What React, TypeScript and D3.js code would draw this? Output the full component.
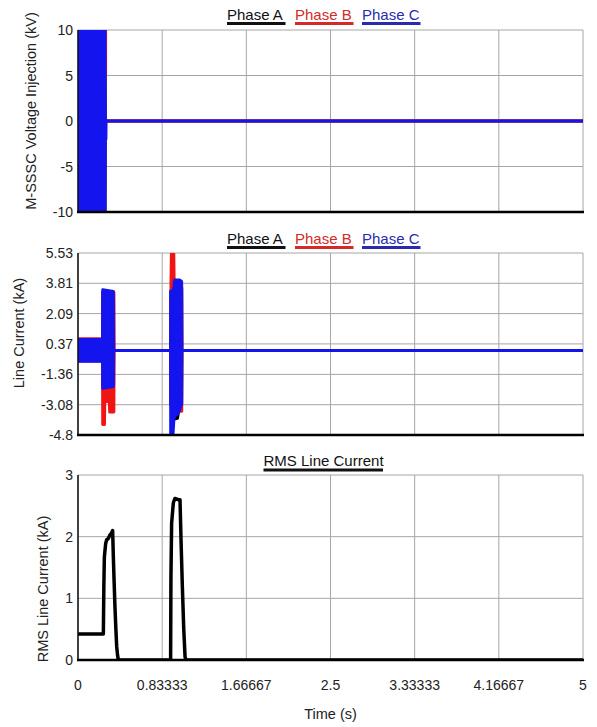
import React from "react";
import * as d3 from "d3";

// ---- X axis (time, s)
const timeTicks = [0, 5 / 6, 10 / 6, 2.5, 20 / 6, 25 / 6, 5];
const timeTickLabels = ["0", "0.83333", "1.66667", "2.5", "3.33333", "4.16667", "5"];

// ---- Panel 1: M-SSSC voltage injection (kV), envelopes of the waveforms (NaN = gap)
const voltTicks = [10, 5, 0, -5, -10];
const voltATime = [0, 0.268, 0.27, 5];
const voltAMax = [10, 10, 0, 0];
const voltAMin = [-10, -10, 0, 0];
const voltBTime = [0, 0.262, 0.264, 0.273, NaN, 0.28, 5];
const voltBMax = [10, 10, 10, 10, NaN, 0, 0];
const voltBMin = [-10, -10, 5, 5, NaN, 0, 0];
const voltCTime = [0, 0.267, 0.27, 0.276, 0.278, 5];
const voltCMax = [10, 10, 0, 0, 0, 0];
const voltCMin = [-10, -10, -2, -2, 0, 0];

// ---- Panel 2: line current (kA), envelopes
const curTicks = [5.53, 3.81, 2.09, 0.37, -1.36, -3.08, -4.8];
const curTickLabels = ["5.53", "3.81", "2.09", "0.37", "-1.36", "-3.08", "-4.8"];
const curATime = [0, 0.243, 0.245, 0.352, 0.354, 0.918, 0.92, 0.955, 0.985, 1.0, 1.026, 1.028, 5];
const curAMax = [0.55, 0.55, 3.3, 3.3, 0, 0, 3.3, 3.8, 3.8, 3.8, 3.5, 0, 0];
const curAMin = [-0.55, -0.55, -2.0, -2.0, 0, 0, -3.0, -3.9, -3.85, -3.3, -3.0, 0, 0];
const curBTime = [0, 0.243, 0.245, 0.262, 0.265, 0.31, 0.314, 0.355, 0.357, 0.919, 0.921, 0.925, 0.948, 0.952, 1.0, 1.027, 1.029, 5];
const curBMax = [0.67, 0.67, 3.3, 3.3, 3.3, 3.3, 3.3, 3.3, 0, 0, 4.0, 5.53, 5.53, 3.8, 3.8, 3.6, 0, 0];
const curBMin = [-0.6, -0.6, -4.2, -4.2, -2.9, -2.9, -3.5, -3.5, 0, 0, -3.0, -3.3, -3.3, -3.3, -3.4, -3.45, 0, 0];
const curCTime = [0, 0.243, 0.245, 0.35, 0.352, 0.917, 0.918, 0.94, 0.95, 0.958, 1.0, 1.02, 1.026, 1.028, 5];
const curCMax = [0.62, 0.62, 3.45, 3.35, 0, 0, 3.37, 3.37, 3.6, 4.0, 4.0, 3.95, 3.9, 0, 0];
const curCMin = [-0.62, -0.62, -2.15, -2.05, 0, 0, -4.8, -4.8, -3.85, -3.75, -3.5, -3.1, -3.1, 0, 0];

// ---- Panel 3: RMS line current (kA)
const rmsTicks = [3, 2, 1, 0];
const rmsTime = [0, 0.251, 0.256, 0.261, 0.274, 0.284, 0.3, 0.317, 0.333, 0.343, 0.35, 0.358, 0.366, 0.375, 0.383, 0.392, 0.4, 0.917, 0.92, 0.927, 0.944, 0.96, 0.993, 1.01, 1.02, 1.033, 1.047, 1.06, 1.068, 5];
const rmsValue = [0.42, 0.42, 1.2, 1.67, 1.89, 1.95, 1.97, 2.03, 2.06, 2.1, 1.67, 1.25, 0.86, 0.5, 0.22, 0.07, 0, 0, 1.3, 2.22, 2.55, 2.62, 2.6, 2.6, 1.95, 1.2, 0.5, 0.05, 0, 0];

const phaseNames = ["Phase A", "Phase B", "Phase C"];

const FONT = "'Liberation Sans', Arial, Helvetica, sans-serif";
const BLACK = "#000000";
const RED = "#f01414";
const BLUE = "#1414ee";
const LEG_COLORS = ["#111111", "#d42a2a", "#2a2ab0"];
const GRID = "#a6a6a6";

const X0 = 78;
const X1 = 583;

type Env = { t: number[]; hi: number[]; lo: number[]; color: string };

function App() {
  const x = d3.scaleLinear().domain([0, 5]).range([X0, X1]);
  const yV = d3.scaleLinear().domain([-10, 10]).range([212, 30]);
  const yI = d3.scaleLinear().domain([-4.8, 5.53]).range([435, 253]);
  const yR = d3.scaleLinear().domain([0, 3]).range([660, 475]);

  const envPath = (e: Env, y: d3.ScaleLinear<number, number>) => {
    const idx = e.t.map((_, i) => i);
    return (
      d3
        .area<number>()
        .defined((i) => !isNaN(e.t[i]))
        .x((i) => x(e.t[i]))
        .y0((i) => y(e.lo[i]))
        .y1((i) => y(e.hi[i]))(idx) || ""
    );
  };

  const voltEnv: Env[] = [
    { t: voltATime, hi: voltAMax, lo: voltAMin, color: BLACK },
    { t: voltBTime, hi: voltBMax, lo: voltBMin, color: RED },
    { t: voltCTime, hi: voltCMax, lo: voltCMin, color: BLUE },
  ];
  const curEnv: Env[] = [
    { t: curATime, hi: curAMax, lo: curAMin, color: BLACK },
    { t: curBTime, hi: curBMax, lo: curBMin, color: RED },
    { t: curCTime, hi: curCMax, lo: curCMin, color: BLUE },
  ];

  const rmsIdx = rmsTime.map((_, i) => i);
  const rmsPath =
    d3
      .line<number>()
      .x((i) => x(rmsTime[i]))
      .y((i) => yR(rmsValue[i]))(rmsIdx) || "";

  const frame = (
    id: string,
    y: d3.ScaleLinear<number, number>,
    ticks: number[],
    labels: string[]
  ) => {
    const [yb, yt] = y.range();
    return (
      <g key={id + "frame"}>
        <defs>
          <clipPath id={id}>
            <rect x={X0} y={yt} width={X1 - X0} height={yb - yt} />
          </clipPath>
        </defs>
        {timeTicks.map((t, i) => (
          <line key={"vx" + i} x1={x(t)} x2={x(t)} y1={yt} y2={yb} stroke={GRID} strokeWidth={1} />
        ))}
        {ticks.map((v, i) => (
          <line key={"hy" + i} x1={X0} x2={X1} y1={y(v)} y2={y(v)} stroke={GRID} strokeWidth={1} />
        ))}
        {ticks.map((v, i) => (
          <text
            key={"ty" + i}
            x={73}
            y={y(v)}
            dy="0.36em"
            textAnchor="end"
            fontSize={14}
            fontFamily={FONT}
            fill="#222"
          >
            {labels[i]}
          </text>
        ))}
      </g>
    );
  };

  const axesLines = (y: d3.ScaleLinear<number, number>, key: string) => {
    const [yb, yt] = y.range();
    return (
      <g key={key}>
        <line x1={X0} x2={X0} y1={yt} y2={yb} stroke="#111" strokeWidth={1.5} />
        <line x1={X0 - 1} x2={X1 + 1} y1={yb} y2={yb} stroke="#000" strokeWidth={2.5} />
      </g>
    );
  };

  const legendX = [227, 295, 362];
  const legend = (baseline: number, key: string) => (
    <g key={key}>
      {phaseNames.map((n, i) => (
        <g key={n}>
          <text x={legendX[i]} y={baseline} fontSize={15} fontFamily={FONT} fill={LEG_COLORS[i]}>
            {n}
          </text>
          <line
            x1={legendX[i]}
            x2={legendX[i] + 58.5}
            y1={baseline + 4}
            y2={baseline + 4}
            stroke={LEG_COLORS[i]}
            strokeWidth={3}
          />
        </g>
      ))}
    </g>
  );

  const yTitle = (label: string, cx: number, cy: number) => (
    <text
      key={label}
      transform={`translate(${cx},${cy}) rotate(-90)`}
      dy="0.35em"
      textAnchor="middle"
      fontSize={14.5}
      fontFamily={FONT}
      fill="#222"
    >
      {label}
    </text>
  );

  return (
    <svg
      width={597}
      height={727}
      style={{ position: "absolute", left: 0, top: 0, display: "block", background: "#fff" }}
    >
      <rect x={0} y={0} width={597} height={727} fill="#fff" />

      {/* Panel 1 */}
      {frame("clipV", yV, voltTicks, voltTicks.map(String))}
      <g clipPath="url(#clipV)">
        {voltEnv.map((e, i) => (
          <path key={i} d={envPath(e, yV)} fill={e.color} stroke={e.color} strokeWidth={3} strokeLinejoin="round" />
        ))}
      </g>
      {axesLines(yV, "axV")}
      {legend(19.5, "legV")}
      {yTitle("M-SSSC Voltage Injection (kV)", 31, 111)}

      {/* Panel 2 */}
      {frame("clipI", yI, curTicks, curTickLabels)}
      <g clipPath="url(#clipI)">
        {curEnv.map((e, i) => (
          <path key={i} d={envPath(e, yI)} fill={e.color} stroke={e.color} strokeWidth={3} strokeLinejoin="round" />
        ))}
      </g>
      {axesLines(yI, "axI")}
      {legend(243.5, "legI")}
      {yTitle("Line Current (kA)", 19, 333)}

      {/* Panel 3 */}
      {frame("clipR", yR, rmsTicks, rmsTicks.map(String))}
      <g clipPath="url(#clipR)">
        <path d={rmsPath} fill="none" stroke="#000" strokeWidth={3.5} strokeLinejoin="round" />
      </g>
      {axesLines(yR, "axR")}
      <g>
        <text x={263.5} y={466} fontSize={15} fontFamily={FONT} fill="#111">
          RMS Line Current
        </text>
        <line x1={263.5} x2={383} y1={470} y2={470} stroke="#111" strokeWidth={3} />
      </g>
      {yTitle("RMS Line Current (kA)", 43, 589)}

      {/* X tick labels */}
      {timeTicks.map((t, i) => (
        <text
          key={"xt" + i}
          x={x(t)}
          y={690}
          textAnchor="middle"
          fontSize={14}
          fontFamily={FONT}
          fill="#222"
        >
          {timeTickLabels[i]}
        </text>
      ))}
      <text x={330.5} y={718.5} textAnchor="middle" fontSize={14.5} fontFamily={FONT} fill="#222">
        Time (s)
      </text>
    </svg>
  );
}

export default App;
